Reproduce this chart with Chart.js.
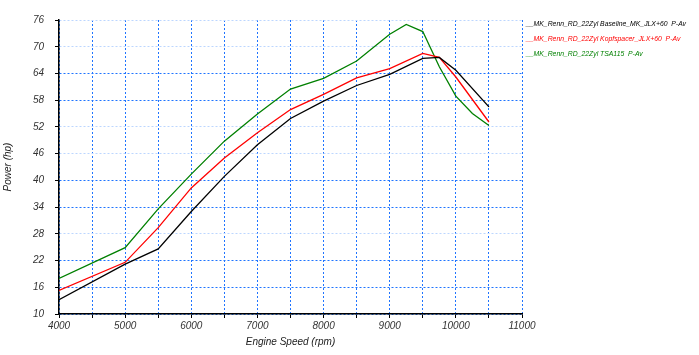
<!DOCTYPE html>
<html>
<head>
<meta charset="utf-8">
<script src="https://cdn.jsdelivr.net/npm/chart.js@4/dist/chart.umd.min.js"></script>
<style>
  html, body { margin: 0; padding: 0; background: #fff; }
  #wrap { width: 699px; height: 355px; position: relative; }
</style>
</head>
<body>
<div id="wrap"><canvas id="c" width="699" height="355"></canvas></div>
<script>
// Engine speed (rpm) and power (hp)
const baselineRpm = [4000, 5000, 5500, 6000, 6500, 7000, 7500, 8000, 8500, 9000, 9500, 9750, 10000, 10500];
const baselineHp  = [13.2, 21.2, 24.6, 33.0, 40.9, 48.0, 53.9, 57.8, 61.3, 63.8, 67.4, 67.6, 64.7, 56.5];

const kopfRpm = [4000, 5000, 5500, 6000, 6500, 7000, 7500, 8000, 8500, 9000, 9500, 9750, 10000, 10500];
const kopfHp  = [15.3, 21.6, 29.4, 38.3, 45.0, 50.7, 55.9, 59.3, 63.0, 65.1, 68.5, 67.6, 63.2, 53.1];

const tsaRpm = [4000, 5000, 5500, 6000, 6500, 7000, 7500, 8000, 8500, 9000, 9250, 9500, 9750, 10000, 10250, 10500];
const tsaHp  = [18.0, 24.9, 33.6, 41.4, 48.8, 54.9, 60.5, 62.9, 66.8, 72.8, 75.0, 73.4, 65.5, 58.9, 55.0, 52.3];

const seriesLabels = [
  "__MK_Renn_RD_22Zyl Baseline_MK_JLX+60  P-Av",
  "__MK_Renn_RD_22Zyl Kopfspacer_JLX+60  P-Av",
  "__MK_Renn_RD_22Zyl TSA115  P-Av"
];
const seriesColors = ["#000000", "#ff0000", "#008000"];

const xTitle = "Engine Speed (rpm)";
const yTitle = "Power (hp)";

const toPts = (xs, ys) => xs.map((x, i) => ({ x: x, y: ys[i] }));

const legendPlugin = {
  id: 'sideLegend',
  afterDraw(chart) {
    const ctx = chart.ctx;
    ctx.save();
    ctx.font = "italic 8px 'Liberation Sans', Arial, sans-serif";
    ctx.textBaseline = 'middle';
    ctx.textAlign = 'left';
    const k = 160 / ctx.measureText(seriesLabels[0]).width;
    ctx.translate(526, 0);
    ctx.scale(k, 1);
    const ys = [24, 39, 54];
    seriesLabels.forEach((t, i) => {
      ctx.fillStyle = seriesColors[i];
      ctx.fillText(t, 0, ys[i]);
    });
    ctx.restore();
  }
};

const lightY = [76, 70, 52, 46, 28];
const tickFont = { family: "'Liberation Sans', Arial, sans-serif", size: 10, style: 'italic' };

new Chart(document.getElementById('c'), {
  type: 'line',
  data: {
    datasets: [
      { label: seriesLabels[0], data: toPts(baselineRpm, baselineHp), borderColor: seriesColors[0] },
      { label: seriesLabels[1], data: toPts(kopfRpm, kopfHp), borderColor: seriesColors[1] },
      { label: seriesLabels[2], data: toPts(tsaRpm, tsaHp), borderColor: seriesColors[2] }
    ].map(d => Object.assign(d, { borderWidth: 1.3, pointRadius: 0, tension: 0, fill: false }))
  },
  options: {
    responsive: false,
    animation: false,
    layout: { padding: { top: 20, right: 177, left: 0, bottom: 0 } },
    plugins: { legend: { display: false }, tooltip: { enabled: false } },
    scales: {
      x: {
        type: 'linear',
        min: 4000, max: 11000,
        afterFit(s) { s.height = 41; },
        ticks: {
          stepSize: 500,
          autoSkip: false,
          maxRotation: 0,
          color: '#333',
          font: tickFont,
          padding: 2,
          callback: v => (v % 1000 === 0 ? String(v) : '')
        },
        grid: {
          color: '#1f74ff',
          lineWidth: 1,
          tickLength: 4,
          tickColor: '#000',
          tickWidth: 1
        },
        border: { display: true, color: '#000', width: 1.5, dash: [2, 2] },
        title: {
          display: true, text: xTitle, color: '#222',
          font: { family: "'Liberation Sans', Arial, sans-serif", size: 10, style: 'italic' },
          padding: { top: 2, bottom: 7 }
        }
      },
      y: {
        min: 10, max: 76,
        afterFit(s) { s.width = 59; },
        ticks: {
          stepSize: 6,
          color: '#333',
          font: tickFont,
          padding: 11
        },
        grid: {
          color: ctx => (ctx.tick && lightY.includes(ctx.tick.value) ? '#bcd6ff' : '#1f74ff'),
          lineWidth: 1,
          tickLength: 4,
          tickColor: '#000',
          tickWidth: 1
        },
        border: { display: true, color: '#000', width: 1.5, dash: [2, 2] },
        title: {
          display: true, text: yTitle, color: '#222',
          font: { family: "'Liberation Sans', Arial, sans-serif", size: 10, style: 'italic' },
          padding: { top: 2, bottom: 2 }
        }
      }
    }
  },
  plugins: [legendPlugin]
});
</script>
</body>
</html>
